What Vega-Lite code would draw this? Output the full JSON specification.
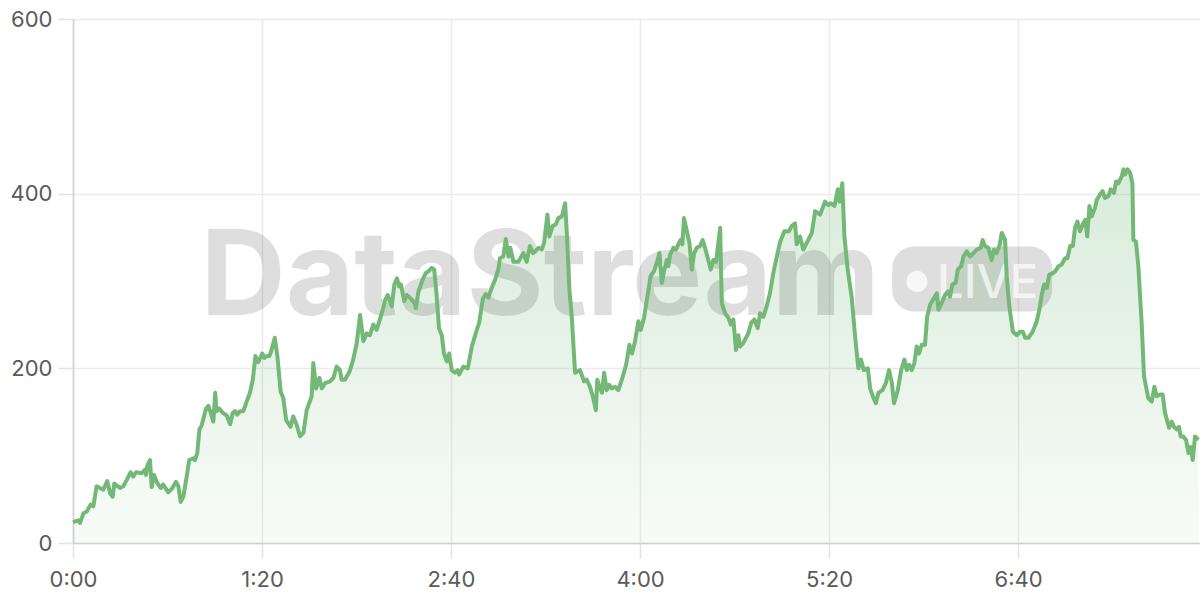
{
  "$schema": "https://vega.github.io/schema/vega-lite/v6.json",
  "width": 1127,
  "height": 524,
  "autosize": {"type": "none"},
  "padding": {"left": 73, "top": 19, "right": 0, "bottom": 57},
  "background": "white",
  "config": {
    "view": {"stroke": null},
    "font": "Inter",
    "axis": {
      "labelFont": "Inter",
      "labelFontSize": 22,
      "labelColor": "#5a5a5a",
      "labelFlush": false,
      "gridColor": "#ebebeb",
      "gridWidth": 1.5,
      "tickColor": "#e3e3e3",
      "tickWidth": 1.5,
      "tickSize": 15,
      "domainColor": "#d0d0d0",
      "domainWidth": 1.5,
      "title": null
    }
  },
  "datasets": {
    "series": [
      {"t":0,"v":24},{"t":2.2,"v":26},{"t":3,"v":23},{"t":4.4,"v":34},{"t":5.8,"v":36},{"t":7.5,"v":44},{"t":8.6,"v":42},{"t":10,"v":65},{"t":12.8,"v":61},{"t":14.5,"v":71},{"t":15.7,"v":57},{"t":16.8,"v":53},{"t":17.5,"v":68},{"t":19.9,"v":63},{"t":21.3,"v":65},{"t":22.7,"v":72},{"t":24.4,"v":81},{"t":25.5,"v":76},{"t":26.7,"v":81},{"t":29.1,"v":80},{"t":30.5,"v":84},{"t":30.9,"v":78},{"t":31.5,"v":89},{"t":32.6,"v":95},{"t":33.3,"v":64},{"t":34.3,"v":78},{"t":35.4,"v":70},{"t":37.1,"v":63},{"t":38.2,"v":67},{"t":40.3,"v":58},{"t":41.8,"v":62},{"t":43.6,"v":70},{"t":44.6,"v":65},{"t":45.6,"v":47},{"t":46.7,"v":53},{"t":48.1,"v":76},{"t":49.2,"v":95},{"t":50.9,"v":97},{"t":51.6,"v":95},{"t":52.6,"v":103},{"t":53.5,"v":130},{"t":54.5,"v":135},{"t":56.3,"v":154},{"t":57.3,"v":157},{"t":58.3,"v":149},{"t":59.4,"v":139},{"t":60.2,"v":172},{"t":60.8,"v":151},{"t":61.9,"v":154},{"t":63.4,"v":149},{"t":65.1,"v":146},{"t":66.5,"v":136},{"t":67.6,"v":149},{"t":68.6,"v":151},{"t":69.5,"v":147},{"t":70.7,"v":151},{"t":72.1,"v":151},{"t":73.5,"v":162},{"t":74.9,"v":172},{"t":76.1,"v":187},{"t":77.2,"v":214},{"t":78.4,"v":207},{"t":80.1,"v":217},{"t":81,"v":212},{"t":82,"v":214},{"t":83.1,"v":214},{"t":83.8,"v":219},{"t":85.4,"v":235},{"t":86.5,"v":214},{"t":87.9,"v":173},{"t":89,"v":166},{"t":90.2,"v":141},{"t":92.1,"v":133},{"t":93.2,"v":145},{"t":94.7,"v":135},{"t":96.1,"v":122},{"t":97.5,"v":126},{"t":98.9,"v":152},{"t":101,"v":168},{"t":101.7,"v":206},{"t":102.9,"v":177},{"t":104.3,"v":189},{"t":105.3,"v":177},{"t":106.7,"v":183},{"t":108.8,"v":185},{"t":110.2,"v":189},{"t":111.6,"v":202},{"t":113,"v":198},{"t":113.7,"v":187},{"t":115.1,"v":187},{"t":117,"v":196},{"t":118.6,"v":210},{"t":120.1,"v":229},{"t":121.5,"v":261},{"t":122.9,"v":231},{"t":124.3,"v":240},{"t":125.7,"v":238},{"t":127.1,"v":250},{"t":128.5,"v":244},{"t":129.9,"v":256},{"t":131.3,"v":269},{"t":132.1,"v":278},{"t":133.2,"v":284},{"t":134.9,"v":271},{"t":136,"v":296},{"t":137.1,"v":303},{"t":138,"v":294},{"t":138.8,"v":296},{"t":140.2,"v":277},{"t":141.2,"v":284},{"t":142.6,"v":281},{"t":144.5,"v":275},{"t":145.1,"v":269},{"t":146.2,"v":288},{"t":147.9,"v":301},{"t":149.3,"v":309},{"t":150.4,"v":311},{"t":151.8,"v":315},{"t":152.9,"v":313},{"t":153.9,"v":284},{"t":154.9,"v":246},{"t":156.1,"v":238},{"t":157,"v":217},{"t":158.2,"v":208},{"t":159.2,"v":217},{"t":160.3,"v":198},{"t":161.7,"v":195},{"t":162.8,"v":198},{"t":163.4,"v":193},{"t":165.2,"v":202},{"t":167.1,"v":200},{"t":168.8,"v":225},{"t":170.9,"v":244},{"t":171.9,"v":252},{"t":173.4,"v":279},{"t":174.7,"v":285},{"t":175.8,"v":281},{"t":177.2,"v":292},{"t":178.6,"v":301},{"t":180,"v":313},{"t":180.7,"v":326},{"t":182.1,"v":328},{"t":183.2,"v":348},{"t":184.3,"v":328},{"t":185.1,"v":338},{"t":186.4,"v":322},{"t":188.5,"v":322},{"t":190.6,"v":332},{"t":192,"v":322},{"t":193.4,"v":340},{"t":194.8,"v":332},{"t":197,"v":338},{"t":198.4,"v":336},{"t":199.4,"v":344},{"t":200.8,"v":376},{"t":201.6,"v":351},{"t":203,"v":363},{"t":204.4,"v":365},{"t":205.4,"v":372},{"t":206.9,"v":374},{"t":208.3,"v":389},{"t":209,"v":355},{"t":210.1,"v":290},{"t":211.1,"v":259},{"t":212.5,"v":195},{"t":214.6,"v":198},{"t":216.3,"v":185},{"t":217.4,"v":187},{"t":218.8,"v":179},{"t":220.2,"v":166},{"t":221.3,"v":152},{"t":221.9,"v":187},{"t":223.1,"v":177},{"t":223.9,"v":172},{"t":224.8,"v":195},{"t":225.9,"v":175},{"t":227,"v":181},{"t":228,"v":177},{"t":229.4,"v":179},{"t":230.8,"v":175},{"t":232.3,"v":187},{"t":234.1,"v":204},{"t":235.5,"v":227},{"t":236.6,"v":217},{"t":237.9,"v":231},{"t":239.3,"v":254},{"t":240.3,"v":244},{"t":241.7,"v":258},{"t":243.1,"v":282},{"t":244.5,"v":306},{"t":245.9,"v":311},{"t":247.1,"v":321},{"t":248.2,"v":332},{"t":249.2,"v":298},{"t":250.3,"v":313},{"t":251.3,"v":324},{"t":252,"v":317},{"t":252.7,"v":330},{"t":254.1,"v":338},{"t":255.2,"v":336},{"t":256.2,"v":342},{"t":257.2,"v":347},{"t":257.9,"v":342},{"t":258.6,"v":372},{"t":259.8,"v":357},{"t":260.9,"v":344},{"t":261.9,"v":313},{"t":262.9,"v":332},{"t":264,"v":338},{"t":265.4,"v":340},{"t":266.5,"v":347},{"t":267.5,"v":338},{"t":268.9,"v":324},{"t":269.9,"v":313},{"t":271,"v":324},{"t":272.2,"v":322},{"t":273.9,"v":361},{"t":274.6,"v":275},{"t":276,"v":263},{"t":277.4,"v":258},{"t":278.4,"v":250},{"t":279.5,"v":256},{"t":280.6,"v":221},{"t":281.6,"v":238},{"t":282.3,"v":225},{"t":283.7,"v":229},{"t":285.8,"v":240},{"t":287,"v":252},{"t":288.4,"v":256},{"t":289.8,"v":246},{"t":290.8,"v":263},{"t":292.2,"v":259},{"t":293.6,"v":271},{"t":295,"v":286},{"t":296.4,"v":309},{"t":297.9,"v":328},{"t":299.3,"v":345},{"t":301.1,"v":357},{"t":303.1,"v":357},{"t":304.2,"v":363},{"t":305.6,"v":366},{"t":306.3,"v":342},{"t":307.7,"v":351},{"t":309.1,"v":336},{"t":310.6,"v":344},{"t":312.7,"v":355},{"t":314.1,"v":380},{"t":316.2,"v":376},{"t":318.3,"v":391},{"t":319.7,"v":387},{"t":320.8,"v":389},{"t":322.3,"v":386},{"t":323.7,"v":405},{"t":324.4,"v":391},{"t":325.6,"v":412},{"t":326.5,"v":351},{"t":327.9,"v":313},{"t":329.6,"v":281},{"t":331,"v":237},{"t":332.4,"v":200},{"t":333.5,"v":210},{"t":334.7,"v":198},{"t":336.4,"v":200},{"t":337.4,"v":177},{"t":338.8,"v":166},{"t":339.8,"v":160},{"t":340.9,"v":172},{"t":342.6,"v":175},{"t":344,"v":183},{"t":345.4,"v":198},{"t":346.6,"v":183},{"t":347.5,"v":160},{"t":349.1,"v":175},{"t":350.5,"v":198},{"t":351.9,"v":210},{"t":352.9,"v":198},{"t":353.9,"v":204},{"t":355,"v":198},{"t":356.1,"v":206},{"t":357.1,"v":225},{"t":358.1,"v":217},{"t":359.2,"v":227},{"t":360.6,"v":227},{"t":361.5,"v":259},{"t":362.8,"v":273},{"t":364.1,"v":279},{"t":365.6,"v":286},{"t":366.3,"v":267},{"t":367.7,"v":275},{"t":369.1,"v":284},{"t":370.3,"v":288},{"t":371.2,"v":282},{"t":372.2,"v":296},{"t":373.6,"v":298},{"t":374.5,"v":313},{"t":375.9,"v":317},{"t":376.9,"v":328},{"t":378.3,"v":334},{"t":379.7,"v":328},{"t":381.1,"v":332},{"t":382.5,"v":336},{"t":384.2,"v":338},{"t":385,"v":347},{"t":386,"v":340},{"t":387.4,"v":338},{"t":388.8,"v":324},{"t":389.8,"v":336},{"t":390.9,"v":332},{"t":392.1,"v":340},{"t":393.1,"v":355},{"t":394.5,"v":347},{"t":395.2,"v":305},{"t":396.3,"v":271},{"t":397.8,"v":242},{"t":399.5,"v":238},{"t":400.8,"v":242},{"t":402,"v":242},{"t":403,"v":235},{"t":404.4,"v":235},{"t":406.2,"v":242},{"t":407.9,"v":254},{"t":409,"v":267},{"t":410,"v":284},{"t":411,"v":296},{"t":412.1,"v":292},{"t":413.2,"v":307},{"t":414.7,"v":309},{"t":415.7,"v":311},{"t":417.1,"v":317},{"t":418.5,"v":319},{"t":419.9,"v":326},{"t":420.9,"v":326},{"t":422,"v":340},{"t":423.2,"v":340},{"t":424.1,"v":361},{"t":425.1,"v":368},{"t":426.2,"v":357},{"t":427.4,"v":365},{"t":428.4,"v":370},{"t":429.3,"v":351},{"t":430.2,"v":386},{"t":431.2,"v":374},{"t":432.6,"v":384},{"t":433.3,"v":393},{"t":434.7,"v":399},{"t":435.8,"v":403},{"t":436.8,"v":395},{"t":438.2,"v":397},{"t":439.2,"v":405},{"t":440.6,"v":401},{"t":441.5,"v":414},{"t":442.5,"v":412},{"t":443.9,"v":420},{"t":444.6,"v":428},{"t":445.3,"v":422},{"t":446.3,"v":428},{"t":447.4,"v":424},{"t":448.4,"v":412},{"t":448.8,"v":347},{"t":449.9,"v":345},{"t":450.9,"v":317},{"t":452.3,"v":252},{"t":453.3,"v":191},{"t":455.1,"v":166},{"t":456.6,"v":162},{"t":457.7,"v":179},{"t":458.7,"v":168},{"t":460.1,"v":170},{"t":461.2,"v":170},{"t":462.2,"v":149},{"t":463.9,"v":132},{"t":465,"v":139},{"t":466,"v":133},{"t":467.2,"v":130},{"t":468.1,"v":133},{"t":468.8,"v":122},{"t":469.9,"v":122},{"t":471.1,"v":118},{"t":472.1,"v":103},{"t":473.1,"v":110},{"t":473.9,"v":95},{"t":474.9,"v":122},{"t":476.3,"v":118}
    ],
    "wmText": [{"t": 197.7, "v": 261, "label": "DataStream"}],
    "wmBadge": [{"t1": 346.7, "t2": 414.4, "v1": 265, "v2": 339.6}],
    "wmDot": [{"t": 357.2, "v": 299.5}],
    "wmLive": [{"t": 387.1, "v": 281, "label": "LIVE"}]
  },
  "encoding": {
    "x": {
      "field": "t",
      "type": "quantitative",
      "scale": {"domain": [0, 477], "nice": false, "zero": false},
      "axis": {
        "values": [0, 80, 160, 240, 320, 400],
        "labelExpr": "floor(datum.value/60) + ':' + (datum.value % 60 < 10 ? '0' : '') + (datum.value % 60)",
        "labelPadding": 11,
        "domain": true,
        "grid": true
      }
    },
    "y": {
      "field": "v",
      "type": "quantitative",
      "scale": {"domain": [0, 600], "nice": false},
      "axis": {
        "values": [0, 200, 400, 600],
        "labelPadding": 6,
        "domain": true,
        "grid": true
      }
    }
  },
  "layer": [
    {
      "data": {"name": "series"},
      "mark": {
        "type": "area",
        "interpolate": "linear",
        "fill": {
          "gradient": "linear",
          "x1": 0, "y1": 0, "x2": 0, "y2": 1,
          "stops": [
            {"offset": 0, "color": "rgba(116,184,120,0.28)"},
            {"offset": 1, "color": "rgba(116,184,120,0.05)"}
          ]
        }
      }
    },
    {
      "data": {"name": "wmText"},
      "mark": {"type": "text", "font": "Inter", "fontWeight": 700, "fontSize": 118, "align": "center", "baseline": "alphabetic", "fill": "#000000", "fillOpacity": 0.13},
      "encoding": {"text": {"field": "label"}}
    },
    {
      "data": {"name": "wmBadge"},
      "mark": {"type": "rect", "fill": "#000000", "fillOpacity": 0.13, "cornerRadius": 22},
      "encoding": {
        "x": {"field": "t1", "type": "quantitative"},
        "x2": {"field": "t2"},
        "y": {"field": "v1", "type": "quantitative"},
        "y2": {"field": "v2"}
      }
    },
    {
      "data": {"name": "wmDot"},
      "mark": {"type": "point", "shape": "circle", "filled": true, "size": 450, "fill": "#ffffff", "opacity": 0.75}
    },
    {
      "data": {"name": "wmLive"},
      "mark": {"type": "text", "font": "Inter", "fontWeight": 500, "fontSize": 47, "align": "center", "baseline": "alphabetic", "fill": "#ffffff", "fillOpacity": 0.7},
      "encoding": {"text": {"field": "label"}}
    },
    {
      "data": {"name": "series"},
      "mark": {"type": "line", "color": "#74b877", "strokeWidth": 4, "strokeJoin": "round", "interpolate": "linear"}
    }
  ]
}
